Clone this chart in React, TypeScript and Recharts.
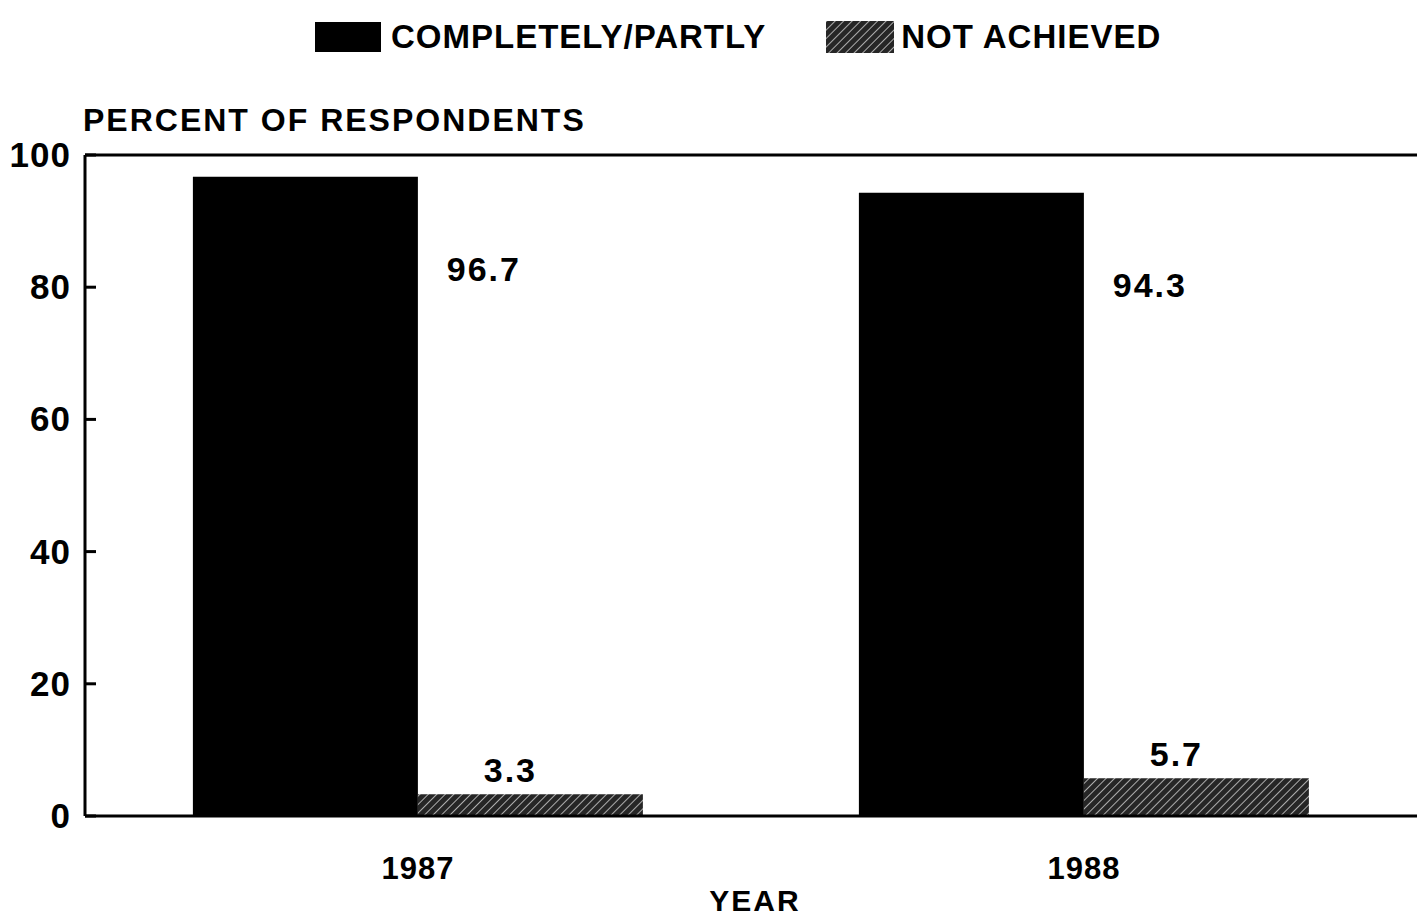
import { BarChart, Bar, XAxis, YAxis, ReferenceLine, Legend } from 'recharts'

const years = ['1987', '1988']
const completelyPartly = [96.7, 94.3]
const notAchieved = [3.3, 5.7]
const yTicks = [0, 20, 40, 60, 80, 100]

const font = '"Liberation Sans", Arial, Helvetica, sans-serif'

const data = years.map((year, i) => ({
  year,
  completely: completelyPartly[i],
  notAchieved: notAchieved[i]
}))

const YTick = (props: any) => {
  const { x, y, payload } = props
  return (
    <g>
      <line x1={x} x2={x + 11} y1={y} y2={y} stroke="#000" strokeWidth={3} />
      <text
        x={x - 14}
        y={y}
        dy={12}
        textAnchor="end"
        fontFamily={font}
        fontWeight={700}
        fontSize={35}
        letterSpacing={1}
        fill="#000"
      >
        {payload.value}
      </text>
    </g>
  )
}

const BigLabel = (props: any) => {
  const { x, y, width, value } = props
  return (
    <text
      x={x + width + 66}
      y={y + 92}
      dy={12}
      textAnchor="middle"
      fontFamily={font}
      fontWeight={700}
      fontSize={34}
      letterSpacing={2}
      fill="#000"
    >
      {value.toFixed(1)}
    </text>
  )
}

const SmallLabel = (props: any) => {
  const { x, y, width, value } = props
  return (
    <text
      x={x + width / 2 - 20}
      y={y - 12}
      textAnchor="middle"
      fontFamily={font}
      fontWeight={700}
      fontSize={34}
      letterSpacing={2}
      fill="#000"
    >
      {value.toFixed(1)}
    </text>
  )
}

const LegendContent = () => (
  <div
    style={{
      display: 'flex',
      alignItems: 'center',
      fontFamily: font,
      fontWeight: 700,
      fontSize: 33,
      letterSpacing: 1,
      color: '#000',
      paddingLeft: 315
    }}
  >
    <span style={{ width: 66, height: 30, background: '#000', display: 'inline-block' }} />
    <span style={{ marginLeft: 10 }}>COMPLETELY/PARTLY</span>
    <svg width={68} height={32} style={{ marginLeft: 60 }}>
      <rect width={68} height={32} fill="url(#hatch)" />
    </svg>
    <span style={{ marginLeft: 7 }}>NOT ACHIEVED</span>
  </div>
)

export default function App() {
  return (
    <div style={{ position: 'absolute', left: 0, top: 0, width: 1417, height: 923, background: '#fff', overflow: 'hidden' }}>
      <div
        style={{
          position: 'absolute',
          left: 83,
          top: 102,
          fontFamily: font,
          fontWeight: 700,
          fontSize: 32,
          letterSpacing: 2,
          color: '#000',
          zIndex: 2
        }}
      >
        PERCENT OF RESPONDENTS
      </div>
      <div
        style={{
          position: 'absolute',
          left: 0,
          width: 1510,
          top: 886,
          textAlign: 'center',
          fontFamily: font,
          fontWeight: 700,
          fontSize: 30,
          letterSpacing: 2,
          lineHeight: '30px',
          color: '#000',
          zIndex: 2
        }}
      >
        YEAR
      </div>
      <BarChart
        width={1417}
        height={923}
        data={data}
        margin={{ top: 155, right: 0, left: 0, bottom: 77 }}
        barCategoryGap="16.2%"
        barGap={0}
      >
        <defs>
          <pattern id="hatch" patternUnits="userSpaceOnUse" width={6} height={6} patternTransform="rotate(45)">
            <rect width={6} height={6} fill="#262626" />
            <line x1={0} y1={0} x2={0} y2={6} stroke="#bdbdbd" strokeWidth={1.8} />
          </pattern>
        </defs>
        <Legend
          verticalAlign="middle"
          align="center"
          content={<LegendContent />}
          wrapperStyle={{ top: 18, left: 0, width: 1417 }}
        />
        <XAxis
          dataKey="year"
          axisLine={{ stroke: '#000', strokeWidth: 3 }}
          tickLine={false}
          tickMargin={35}
          tick={{ fontFamily: font, fontWeight: 700, fontSize: 31, fill: '#000', letterSpacing: 1 }}
        />
        <YAxis
          width={85}
          domain={[0, 100]}
          ticks={yTicks}
          axisLine={{ stroke: '#000', strokeWidth: 3 }}
          tickLine={false}
          tickSize={0}
          tickMargin={0}
          tick={<YTick />}
        />
        <ReferenceLine y={100} stroke="#000" strokeWidth={3} />
        <Bar dataKey="completely" fill="#000" isAnimationActive={false} label={<BigLabel />} />
        <Bar dataKey="notAchieved" fill="url(#hatch)" isAnimationActive={false} label={<SmallLabel />} />
      </BarChart>
    </div>
  )
}
